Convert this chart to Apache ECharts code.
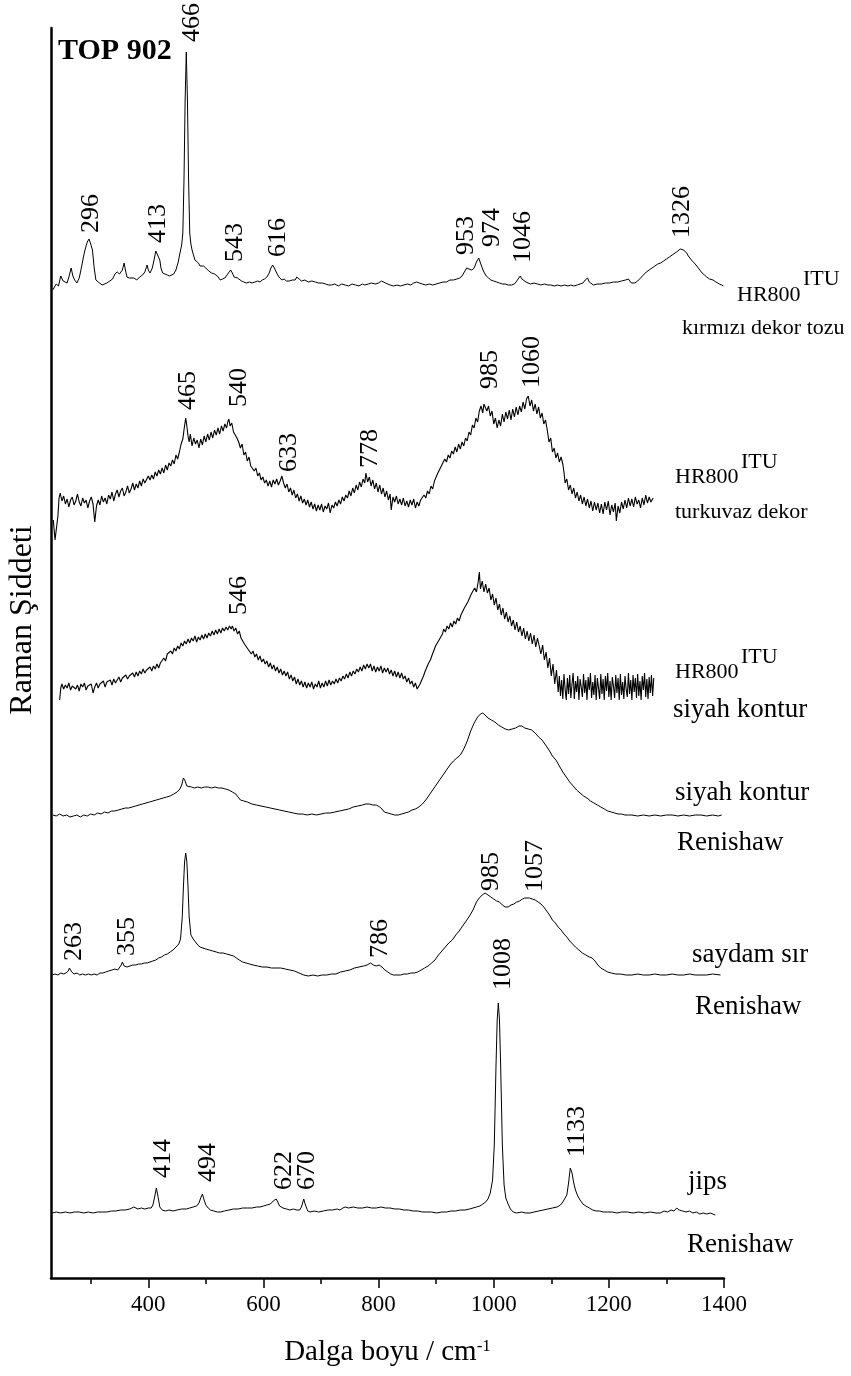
<!DOCTYPE html>
<html>
<head>
<meta charset="utf-8">
<script src="https://cdn.jsdelivr.net/npm/echarts@6/dist/echarts.min.js"></script>
<style>
  html, body { margin: 0; padding: 0; background: #fff; }
  #chart { width: 851px; height: 1376px; }
</style>
</head>
<body>
<div id="chart"></div>
<script>
// ---- Raman spectra, [wavenumber (cm-1), intensity above own baseline] ----

// HR800 (ITU) - kırmızı dekor tozu
const kirmiziDekorTozu = [
  [234,0],[237,3],[240,6],[244,4],[248,14],[252,9],[255,8],[259,7],[263,15],[266,22],[269,14],[272,10],[276,7],[280,12],[283,20],[287,32],[290,40],[294,48],[297,51],[300,46],[303,40],[306,22],[309,10],[313,8],[316,7],[320,5],[323,5],[328,7],[333,9],[338,11],[342,16],[346,18],[350,16],[352,15],[355,20],[358,27],[361,18],[363,13],[367,12],[370,11],[375,12],[380,10],[385,13],[390,15],[394,18],[398,25],[400,20],[403,17],[407,22],[410,30],[413,39],[416,38],[420,30],[422,22],[425,17],[429,16],[433,15],[437,14],[440,13],[444,16],[448,20],[452,28],[455,37],[458,45],[460,57],[462,110],[464,190],[466,238],[468,190],[470,110],[472,57],[474,46],[476,40],[479,34],[481,30],[484,28],[487,27],[490,24],[492,23],[496,24],[500,22],[505,19],[510,17],[515,16],[520,14],[523,12],[525,10],[529,11],[533,12],[538,16],[543,20],[546,17],[549,13],[552,14],[555,12],[558,10],[562,9],[566,8],[570,7],[576,8],[580,7],[585,8],[590,9],[594,8],[598,10],[602,11],[606,13],[610,17],[613,22],[616,25],[619,22],[623,17],[627,13],[632,10],[636,11],[640,9],[645,9],[650,10],[655,10],[658,13],[660,15],[662,11],[666,9],[672,10],[678,8],[684,9],[690,8],[696,7],[702,7],[708,6],[713,5],[718,5],[724,6],[730,4],[736,6],[742,5],[748,4],[754,6],[760,5],[766,4],[772,6],[776,5],[782,6],[788,7],[794,6],[800,7],[805,9],[808,9],[812,7],[816,6],[820,5],[826,4],[832,5],[838,4],[844,5],[850,6],[856,5],[861,7],[866,8],[871,7],[876,6],[882,5],[888,6],[894,5],[900,6],[906,7],[912,8],[918,8],[924,10],[930,10],[936,11],[941,12],[945,14],[949,18],[953,22],[957,21],[962,20],[966,22],[970,28],[974,32],[977,27],[980,22],[983,18],[987,14],[991,12],[995,10],[1000,9],[1005,8],[1010,7],[1015,6],[1020,6],[1025,5],[1031,5],[1036,6],[1040,9],[1043,11],[1046,14],[1049,11],[1052,9],[1056,8],[1059,7],[1064,6],[1070,7],[1076,6],[1082,5],[1088,6],[1094,5],[1099,5],[1105,4],[1111,5],[1117,4],[1123,5],[1129,4],[1134,5],[1139,4],[1145,5],[1150,6],[1155,7],[1159,10],[1163,12],[1166,8],[1169,6],[1173,5],[1180,6],[1187,6],[1194,7],[1201,7],[1208,8],[1215,8],[1222,9],[1229,10],[1234,11],[1237,12],[1239,7],[1241,5],[1245,7],[1250,9],[1255,12],[1260,15],[1265,18],[1270,20],[1275,22],[1280,24],[1285,26],[1290,27],[1295,29],[1300,31],[1305,33],[1310,35],[1315,37],[1320,39],[1324,41],[1326,42],[1330,40],[1335,37],[1338,34],[1341,32],[1345,29],[1350,26],[1354,23],[1358,20],[1362,17],[1366,15],[1370,13],[1375,11],[1381,10],[1386,8],[1392,6],[1396,5],[1399,4]
];
const kirmiziPeaks = [296, 413, 466, 543, 616, 953, 974, 1046, 1326];

// HR800 (ITU) - turkuvaz dekor
const turkuvazDekor = [
  [235,-10],[238,-30],[241,-28],[243,-6],[245,12],[247,17],[250,9],[253,14],[256,6],[259,11],[262,3],[265,10],[268,13],[271,5],[274,9],[277,16],[280,8],[283,4],[286,12],[289,7],[292,10],[295,2],[298,9],[301,13],[304,6],[307,-12],[310,4],
  [313,10],[316,5],[319,14],[322,8],[325,12],[328,6],[331,15],[334,11],[337,18],[340,9],[343,16],[346,20],[349,13],[352,19],[355,22],[358,14],[361,18],[364,24],[367,17],[370,21],[373,27],
  [376,20],[379,26],[382,22],[385,29],[388,24],[391,31],[394,27],[397,25],[400,34],[403,30],[406,35],[409,31],[412,38],[415,34],[418,40],[421,36],[424,42],[427,37],[430,45],[433,40],
  [436,47],[439,44],[442,50],[445,46],[448,55],[451,51],[454,58],[457,66],[460,71],[462,80],[465,92],[467,84],[469,74],[471,68],[473,76],
  [476,64],[479,72],[482,66],[485,70],[488,62],[491,71],[494,65],[497,74],[500,68],[503,76],[506,70],[509,78],[512,72],[515,80],[518,75],[521,82],[524,76],[527,84],[530,79],[533,86],[536,82],[538,88],[540,91],
  [542,84],[545,87],[548,78],[551,80],[554,72],[557,68],[560,62],[563,66],[566,55],[569,58],[572,49],[575,53],[578,44],[581,46],[584,39],[587,42],[590,34],[593,37],[596,30],[599,33],[602,27],[605,30],
  [608,24],[611,29],[614,23],[617,30],[620,26],[623,31],[626,25],[629,29],[632,34],[635,27],[638,22],[641,26],[644,18],[647,22],[650,15],[653,20],[656,12],[659,16],[662,9],[665,14],[668,7],[671,11],[674,5],[677,10],[680,3],[683,8],[686,1],[689,6],[692,-1],[695,5],
  [698,0],[701,6],[704,-2],[707,4],[710,1],[713,7],[716,-3],[719,5],[722,2],[725,8],[728,4],[731,10],[734,6],[737,13],[740,9],[743,15],[746,12],[749,19],[752,14],[755,22],[758,17],[761,25],[764,20],[767,28],[770,23],[773,31],[776,27],[778,37],
  [781,28],[784,33],[787,24],[790,30],[793,21],[796,27],[799,18],[802,25],[805,16],[808,22],[811,13],[814,19],[817,10],[820,16],[822,0],[825,13],[828,8],[831,14],[834,6],[837,11],[840,5],[843,12],[846,4],[849,9],[852,3],[855,10],[858,5],[861,11],[864,2],[867,8],[870,4],[873,10],
  [876,9],[879,15],[882,12],[885,19],[888,16],[891,24],[894,21],[897,29],[900,30],[903,37],[906,35],[909,44],[912,42],[915,51],[918,48],[921,55],[924,52],[927,59],[930,56],[933,63],[936,58],[939,66],[942,61],[945,68],[948,64],[951,72],[954,69],
  [957,78],[960,75],[963,85],[966,82],[969,92],[972,88],[975,99],[978,104],[981,97],[983,106],[985,108],[988,99],[991,104],[994,94],[997,99],[1000,86],[1003,92],[1006,82],[1009,90],[1012,84],[1015,96],[1018,88],[1021,98],[1024,91],
  [1027,100],[1030,90],[1033,101],[1036,93],[1039,103],[1042,95],[1045,104],[1048,98],[1051,108],[1054,101],[1057,111],[1060,114],[1063,104],[1066,110],[1069,99],[1072,106],[1075,96],[1078,103],[1081,92],[1084,97],[1087,86],[1090,90],
  [1093,80],[1096,68],[1099,72],[1102,58],[1105,62],[1108,52],[1111,57],[1114,48],[1117,53],[1120,46],[1122,38],[1124,27],[1127,31],[1130,20],[1133,25],[1136,16],[1139,22],[1142,12],[1145,18],[1148,9],[1151,15],[1154,6],[1157,13],[1160,4],[1163,11],[1166,2],[1169,9],[1172,-1],[1175,8],[1178,0],[1181,7],[1184,-3],
  [1187,6],[1190,-4],[1193,8],[1196,0],[1199,9],[1202,-5],[1205,5],[1208,-2],[1211,7],[1213,-11],[1216,4],[1219,-3],[1222,8],[1225,1],[1228,10],[1231,2],[1234,12],[1237,4],[1240,11],[1243,3],[1246,13],[1249,6],[1252,10],[1255,2],[1258,12],[1261,5],[1264,15],[1267,7],[1270,13],[1273,8],[1277,12]
];
const turkuvazPeaks = [465, 540, 633, 778, 985, 1060];

// HR800 (ITU) - siyah kontur
const siyahKonturHR800 = [
  [246,-10],[248,2],[250,6],[253,1],[256,5],[259,2],[262,7],[265,0],[268,4],[271,6],[274,1],[277,5],[280,-1],[283,6],[286,3],[289,7],[292,0],[295,4],[298,2],[301,6],[304,-3],[307,3],
  [310,7],[313,2],[316,6],[319,4],[322,9],[325,3],[328,8],[331,6],[334,10],[337,5],[340,11],[343,7],[346,9],[349,13],[352,8],[355,12],[358,10],[361,15],[364,11],[367,14],[370,12],[373,17],
  [376,13],[379,18],[382,14],[385,19],[388,16],[391,21],[394,17],[397,20],[400,18],[403,23],[406,19],[409,24],[412,21],[415,26],[418,22],[421,27],[424,26],[427,32],[430,29],[433,36],
  [436,34],[439,39],[442,36],[445,42],[448,39],[451,44],[454,41],[457,47],[460,44],[463,49],[466,46],[469,51],[472,47],[475,52],[478,49],[481,54],[484,48],[487,53],[490,50],[493,55],[496,51],[499,56],[502,52],
  [505,57],[508,54],[511,59],[514,55],[517,60],[520,56],[523,61],[526,57],[529,62],[532,59],[535,63],[538,60],[541,64],[544,61],[546,64],[549,59],[552,62],[555,56],[558,59],
  [561,52],[564,54],[567,46],[570,48],[573,41],[576,43],[579,36],[582,39],[585,33],[588,36],[591,30],[594,34],[597,28],[600,31],
  [603,26],[606,29],[609,23],[612,27],[615,21],[618,25],[621,19],[624,23],[627,17],[630,21],[633,15],[636,19],[639,14],[642,18],[645,11],[648,15],[651,9],[654,13],[657,6],[660,11],[663,5],[666,9],[669,3],
  [672,8],[675,2],[678,7],[681,3],[684,8],[687,1],[690,6],[693,3],[696,9],[699,2],[702,7],[705,3],[708,9],[711,4],[714,10],[717,5],[720,9],[723,6],[726,11],
  [729,7],[732,12],[735,9],[738,14],[741,11],[744,16],[747,12],[750,18],[753,14],[756,19],[759,16],[762,21],[765,18],[768,23],[771,19],[774,25],[777,21],[780,26],[783,22],
  [786,26],[789,19],[792,24],[795,18],[798,23],[801,19],[804,24],[807,17],[810,22],[813,18],[816,22],[819,16],[822,20],[825,14],[828,19],[831,13],[834,18],[837,12],[840,17],[843,11],
  [846,14],[849,8],[852,12],[855,6],[858,9],[861,3],[864,7],[867,1],[869,-1],[872,6],[875,10],[878,14],[881,19],[884,21],[887,27],[890,30],[893,35],[896,37],
  [899,44],[902,43],[905,50],[908,52],[911,56],[913,61],[916,58],[919,64],[922,61],[925,67],[928,63],[931,69],[934,66],[937,72],[940,69],[943,75],
  [946,74],[949,82],[952,80],[955,88],[958,86],[961,96],[964,94],[967,102],[970,98],[973,108],[975,118],[977,101],[980,109],[983,98],[986,106],[989,97],
  [992,102],[995,90],[998,96],[1001,85],[1004,92],[1007,80],[1010,86],[1013,75],[1016,82],[1019,71],[1022,78],[1025,68],[1028,74],[1031,64],[1034,70],[1037,60],[1040,68],
  [1043,58],[1046,64],[1049,54],[1052,62],[1055,51],[1058,59],[1061,49],[1064,57],[1067,46],[1070,55],[1073,43],[1076,52],[1079,44],
  [1082,36],[1085,45],[1088,30],[1091,38],[1094,22],[1097,32],[1100,14],[1103,26],[1106,6],[1109,20],[1112,-2],
  [1114,14],[1116,-6],[1118,10],[1120,-9],[1122,16],[1124,1],[1126,-10],[1128,12],[1130,-4],[1132,15],[1134,-8],[1136,6],[1138,17],[1140,-9],[1142,9],[1144,-2],[1146,14],[1148,-10],[1150,11],[1152,3],[1154,-7],[1156,16],[1158,-3],[1160,10],[1162,-10],[1164,13],[1166,0],[1168,17],[1170,-8],[1172,8],[1174,-5],[1176,15],[1178,-10],[1180,12],[1182,2],[1184,-9],[1186,16],[1188,-4],[1190,11],[1192,-10],[1194,14],[1196,-1],[1198,17],[1200,-7],[1202,9],[1204,-10],[1206,13],[1208,4],[1210,-8],[1212,15],[1214,-3],[1216,12],[1218,-10],[1220,16],[1222,-5],[1224,8],[1226,-9],[1228,14],[1230,1],[1232,-7],[1234,17],[1236,-4],[1238,10],[1240,-10],[1242,15],[1244,-2],[1246,12],[1248,-8],[1250,16],[1252,-6],[1254,9],[1256,-10],[1258,14],[1260,0],[1262,17],[1264,-7],[1266,11],[1268,-9],[1270,13],[1272,-3],[1274,15],[1276,-6],[1278,12]
];
const siyahHR800Peaks = [546];

// Renishaw - siyah kontur
const siyahKonturRenishaw = [
  [234,2],[240,1],[246,3],[252,1],[258,2],[264,0],[270,1],[276,2],[282,0],[288,2],[294,1],[300,3],[306,2],[312,4],[318,3],[324,5],[330,4],[336,6],[342,6],[348,7],[354,8],[360,9],[366,9],[372,10],[378,11],[384,12],[390,13],[396,14],[402,15],[408,16],[414,17],[420,18],[426,19],[432,20],[438,21],[444,23],[450,25],[455,28],[458,32],[461,39],[464,36],[467,31],[470,29],[475,30],[480,29],[486,30],[492,29],[498,30],[504,30],[510,29],[516,30],[522,29],[528,29],[534,28],[540,27],[546,25],[552,23],[556,20],[560,17],[566,16],[572,15],[580,13],[588,12],[596,11],[604,10],[612,9],[620,8],[628,7],[636,6],[644,5],[652,4],[660,3],[668,3],[676,2],[684,3],[692,2],[700,3],[708,4],[716,4],[724,5],[732,6],[740,7],[748,8],[756,10],[764,11],[772,12],[778,13],[784,13],[790,12],[796,12],[802,10],[806,8],[810,5],[816,4],[822,3],[828,2],[834,2],[840,3],[846,4],[852,5],[858,7],[864,8],[870,10],[876,13],[882,17],[888,22],[894,27],[900,32],[906,37],[912,42],[918,47],[924,52],[930,56],[936,59],[942,62],[948,68],[954,76],[960,86],[966,94],[972,100],[977,103],[981,104],[985,102],[990,99],[996,97],[1002,95],[1008,92],[1014,90],[1020,88],[1026,87],[1032,88],[1038,89],[1044,91],[1049,91],[1054,89],[1060,88],[1066,87],[1072,84],[1078,80],[1084,77],[1090,72],[1096,67],[1102,61],[1108,57],[1114,51],[1120,45],[1126,40],[1132,35],[1138,31],[1144,27],[1150,24],[1156,21],[1162,19],[1168,16],[1174,14],[1180,12],[1186,10],[1192,8],[1198,6],[1204,5],[1210,4],[1216,3],[1222,3],[1228,2],[1234,2],[1240,2],[1250,1],[1260,2],[1270,1],[1280,2],[1290,1],[1300,2],[1310,2],[1320,1],[1330,2],[1340,1],[1350,2],[1360,2],[1370,1],[1380,2],[1390,1],[1396,2]
];

// Renishaw - saydam sır
const saydamSir = [
  [233,2],[238,3],[243,2],[248,4],[253,3],[257,4],[261,6],[263,9],[267,5],[271,3],[276,4],[281,2],[286,3],[291,2],[296,3],[301,2],[306,3],[311,2],[316,4],[321,4],[326,5],[331,6],[337,7],[342,8],[347,7],[350,9],[353,12],[355,15],[358,11],[363,10],[368,11],[373,12],[378,12],[383,13],[388,13],[393,14],[398,14],[403,15],[408,16],[413,17],[418,19],[423,20],[428,22],[433,23],[438,25],[443,27],[448,30],[453,33],[456,38],[459,60],[461,90],[463,115],[465,124],[467,115],[469,90],[471,60],[474,42],[478,38],[482,35],[486,32],[490,30],[495,29],[500,28],[506,27],[512,26],[518,25],[524,24],[530,24],[536,23],[542,22],[548,21],[553,19],[558,17],[564,15],[570,14],[576,13],[582,12],[590,11],[598,10],[606,10],[614,9],[622,9],[630,9],[638,8],[646,7],[654,6],[662,4],[670,2],[678,1],[686,2],[694,1],[702,2],[710,2],[718,3],[726,3],[734,5],[742,6],[750,7],[758,9],[766,10],[774,11],[780,12],[786,14],[791,12],[796,11],[801,12],[806,10],[811,7],[816,5],[821,3],[826,2],[832,2],[838,2],[844,3],[850,3],[856,4],[862,4],[868,5],[874,7],[880,9],[886,11],[892,14],[898,17],[904,22],[910,26],[916,30],[922,34],[928,37],[934,42],[940,46],[946,51],[952,56],[958,61],[964,67],[970,75],[975,79],[980,82],[985,84],[990,82],[995,80],[1000,78],[1005,76],[1010,75],[1015,72],[1020,70],[1025,70],[1030,72],[1035,73],[1040,75],[1045,76],[1050,78],[1054,79],[1057,81],[1062,79],[1067,78],[1072,77],[1077,75],[1082,73],[1087,70],[1092,66],[1097,62],[1102,57],[1107,54],[1112,50],[1117,47],[1122,43],[1127,40],[1132,36],[1137,33],[1142,30],[1148,27],[1154,24],[1160,22],[1166,20],[1171,19],[1176,16],[1181,12],[1186,9],[1192,7],[1198,5],[1204,4],[1212,3],[1220,3],[1230,2],[1240,2],[1250,3],[1260,2],[1270,2],[1280,3],[1290,2],[1300,2],[1310,3],[1320,2],[1330,2],[1340,3],[1350,2],[1360,2],[1370,2],[1380,3],[1394,2]
];
const saydamPeaks = [263, 355, 786, 985, 1057];

// Renishaw - jips
const jips = [
  [233,2],[240,3],[248,2],[256,3],[264,2],[272,3],[280,3],[288,2],[296,3],[304,2],[312,3],[320,3],[328,3],[336,4],[344,4],[352,5],[360,5],[368,6],[375,8],[382,6],[388,7],[394,6],[400,7],[405,7],[408,10],[411,18],[414,27],[417,18],[420,8],[424,5],[430,4],[436,5],[443,4],[450,5],[458,6],[466,6],[472,7],[478,8],[484,9],[488,12],[491,17],[494,21],[497,15],[500,10],[504,7],[508,5],[514,4],[520,3],[526,3],[532,4],[540,5],[548,6],[556,6],[564,7],[572,7],[580,7],[588,8],[594,8],[600,9],[606,10],[612,11],[617,14],[622,16],[625,13],[628,9],[634,7],[640,6],[646,5],[652,6],[658,5],[663,5],[666,8],[670,16],[673,10],[677,4],[681,3],[688,4],[696,3],[704,4],[712,5],[720,5],[728,6],[733,5],[738,7],[742,8],[748,7],[756,8],[764,7],[772,7],[780,8],[788,7],[796,7],[804,8],[812,7],[820,7],[828,6],[836,6],[844,5],[852,5],[860,4],[868,4],[876,3],[884,3],[892,3],[901,2],[910,3],[918,3],[926,4],[934,4],[942,5],[950,5],[958,6],[964,7],[970,8],[976,9],[981,11],[986,13],[990,16],[994,22],[998,35],[1001,70],[1004,150],[1006,195],[1008,212],[1010,195],[1012,150],[1015,70],[1018,30],[1021,17],[1025,11],[1029,6],[1034,3],[1040,2],[1048,3],[1056,2],[1063,2],[1070,3],[1078,4],[1086,5],[1094,6],[1102,7],[1110,8],[1116,10],[1120,13],[1124,17],[1127,20],[1130,32],[1133,47],[1136,42],[1139,32],[1142,25],[1146,19],[1150,15],[1155,11],[1160,9],[1166,7],[1172,5],[1178,4],[1184,4],[1190,3],[1198,3],[1206,3],[1214,2],[1222,3],[1232,3],[1242,2],[1252,3],[1262,2],[1272,3],[1282,2],[1289,2],[1296,4],[1302,3],[1308,5],[1313,4],[1318,7],[1322,5],[1328,4],[1334,3],[1340,4],[1346,2],[1352,3],[1358,1],[1364,2],[1370,1],[1376,2],[1385,0]
];
const jipsPeaks = [414, 494, 622, 670, 1008, 1133];

// Axis ticks
const xMajorTicks = [400, 600, 800, 1000, 1200, 1400];
const xMinorTicks = [300, 500, 700, 900, 1100, 1300];

// ---- layout ----
const SERIF = '"Liberation Serif", "Times New Roman", Times, serif';

// vertical stacking of the traces (in y-axis units)
const stack = [
  { data: kirmiziDekorTozu, shift: 988, peaks: kirmiziPeaks, width: 1 },
  { data: turkuvazDekor, shift: 768, peaks: turkuvazPeaks, width: 1.1 },
  { data: siyahKonturHR800, shift: 588, peaks: siyahHR800Peaks, width: 1.1 },
  { data: siyahKonturRenishaw, shift: 461, peaks: [], width: 1 },
  { data: saydamSir, shift: 301, peaks: saydamPeaks, width: 1 },
  { data: jips, shift: 63, peaks: jipsPeaks, width: 1 }
];

// fine placement of the rotated peak labels: [dx, gap] in px
const labelTweak = {
  '0:296': [3, 6], '0:413': [2, 8], '0:466': [6, 10], '0:543': [5, 8], '0:616': [6, 8],
  '0:953': [0, 13], '0:974': [13, 11], '0:1046': [3, 13], '0:1326': [1, 10],
  '1:465': [2, 8], '1:540': [10, 12], '1:633': [7, 4], '1:778': [4, 5], '1:985': [5, 13], '1:1060': [4, 8],
  '2:546': [7, 11],
  '4:263': [5, 7], '4:355': [5, 6], '4:786': [10, 5], '4:985': [6, 2], '4:1057': [9, 4],
  '5:414': [7, 10], '5:494': [6, 12], '5:622': [8, 9], '5:670': [3, 9], '5:1008': [5, 13], '5:1133': [7, 11]
};

const chart = echarts.init(document.getElementById('chart'), null, { renderer: 'canvas' });

const series = stack.map(s => ({
  type: 'line',
  xAxisIndex: 0,
  yAxisIndex: 0,
  data: s.data.map(p => [p[0], p[1] + s.shift]),
  showSymbol: false,
  symbol: 'none',
  silent: true,
  lineStyle: { color: '#000', width: s.width },
  z: 3
}));

chart.setOption({
  animation: false,
  backgroundColor: '#fff',
  grid: { left: 51, right: 127, top: 28, bottom: 98 },
  xAxis: [
    {
      type: 'value', min: 231, max: 1400, position: 'bottom',
      axisLine: { show: true, onZero: false, lineStyle: { color: '#000', width: 2.5 } },
      axisTick: { show: true, customValues: xMajorTicks, length: 10, lineStyle: { color: '#000', width: 1.5 } },
      axisLabel: {
        customValues: xMajorTicks, fontSize: 23, fontFamily: SERIF, color: '#000', margin: 15,
        formatter: v => String(v)
      },
      splitLine: { show: false },
      name: '{a|Dalga boyu / cm}{b|-1}',
      nameLocation: 'middle',
      nameGap: 60,
      nameTextStyle: {
        rich: {
          a: { fontSize: 29, fontFamily: SERIF, color: '#000' },
          b: { fontSize: 17, fontFamily: SERIF, color: '#000', verticalAlign: 'top' }
        }
      }
    },
    {
      type: 'value', min: 231, max: 1400, position: 'bottom',
      axisLine: { show: false, onZero: false },
      axisTick: { show: true, customValues: xMinorTicks, length: 6, lineStyle: { color: '#000', width: 1.5 } },
      axisLabel: { show: false },
      splitLine: { show: false }
    }
  ],
  yAxis: {
    type: 'value', min: 0, max: 1250,
    axisLine: { show: true, onZero: false, lineStyle: { color: '#000', width: 2.5 } },
    axisTick: { show: false },
    axisLabel: { show: false },
    splitLine: { show: false }
  },
  series
});

// ---- text annotations ----
const graphics = [];
function txt(text, x, y, size, opts) {
  opts = opts || {};
  graphics.push({
    type: 'text', x, y, rotation: opts.rotation || 0, silent: true, z: 10,
    style: {
      text, fill: '#000', fontSize: size, fontFamily: SERIF,
      fontWeight: opts.bold ? 'bold' : 'normal',
      align: opts.align || 'left', verticalAlign: 'middle'
    }
  });
}

// rotated peak labels sit just above the local maximum of their trace
stack.forEach((s, si) => {
  s.peaks.forEach(wn => {
    let top = -Infinity;
    s.data.forEach(p => { if (Math.abs(p[0] - wn) <= 5 && p[1] > top) top = p[1]; });
    const t = labelTweak[si + ':' + wn] || [5, 9];
    const pt = chart.convertToPixel({ seriesIndex: si }, [wn, top + s.shift]);
    txt(String(wn), pt[0] + t[0], pt[1] - t[1], 26, { rotation: Math.PI / 2 });
  });
});

txt('TOP 902', 58, 51, 30, { bold: true });
txt('Raman Şiddeti', 23, 620, 32, { rotation: Math.PI / 2, align: 'center' });

txt('HR800', 737, 295, 22); txt('ITU', 803, 279, 22);
txt('kırmızı dekor tozu', 682, 328, 22);

txt('HR800', 675, 477, 22); txt('ITU', 741, 462, 22);
txt('turkuvaz dekor', 675, 512, 22);

txt('HR800', 675, 672, 22); txt('ITU', 741, 657, 22);
txt('siyah kontur', 673, 710, 27);

txt('siyah kontur', 675, 793, 27);
txt('Renishaw', 677, 843, 27);

txt('saydam sır', 692, 955, 27);
txt('Renishaw', 695, 1007, 27);

txt('jips', 688, 1182, 27);
txt('Renishaw', 687, 1245, 27);

chart.setOption({ graphic: graphics });
</script>
</body>
</html>
